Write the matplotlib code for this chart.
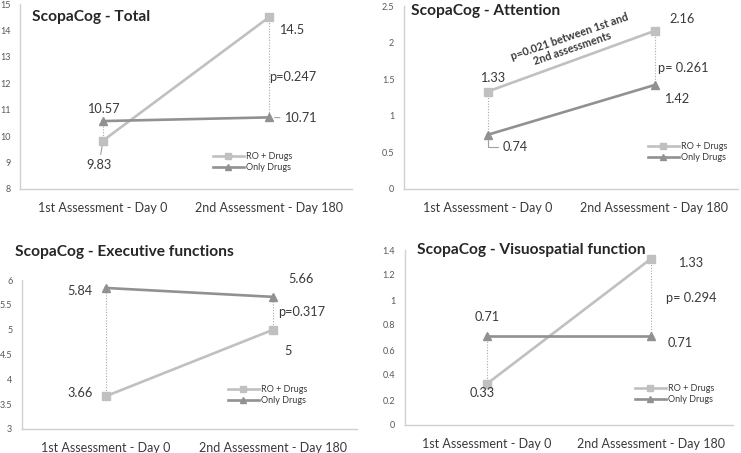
import matplotlib
matplotlib.use("Agg")
import matplotlib.pyplot as plt
from matplotlib.ticker import FormatStrFormatter

plt.rcParams['font.family'] = ['Lato', 'DejaVu Sans']

### Data
categories = ['1st Assessment - Day 0', '2nd Assessment - Day 180']
series_names = ['RO + Drugs', 'Only Drugs']

total_ro = [9.83, 14.5]
total_only = [10.57, 10.71]
total_p = 'p=0.247'

attention_ro = [1.33, 2.16]
attention_only = [0.74, 1.42]
attention_p = 'p= 0.261'
attention_note = 'p=0.021 between 1st and\n2nd assessments'

executive_ro = [3.66, 5]
executive_only = [5.84, 5.66]
executive_p = 'p=0.317'

visuo_ro = [0.33, 1.33]
visuo_only = [0.71, 0.71]
visuo_p = 'p= 0.294'

### Styles
W, H = 741, 453
c_ro = '#c0c0c0'
c_only = '#919191'
c_text = '#3a3a3a'
c_tick = '#595959'
c_spine = '#d0d0d0'
val_size = 9.2
title_size = 11.2

fig = plt.figure(figsize=(W / 100, H / 100), dpi=100)


def px_rect(left, right, top, bottom):
    # pixel box -> figure fraction rect
    return [left / W, 1 - bottom / H, (right - left) / W, (bottom - top) / H]


def px2pt(v):
    return v * 0.72


def panel(rect, ro, only, ylim, ystep):
    ax = fig.add_axes(rect)
    x = [0, 1]
    # dotted connectors between the two series
    for i in x:
        ax.plot([i, i], [ro[i], only[i]], ls=(0, (1, 1.5)), color='#a8a8a8',
                lw=0.8, zorder=1)
    ax.plot(x, ro, color=c_ro, lw=1.9, marker='s', ms=6, label=series_names[0],
            zorder=3)
    ax.plot(x, only, color=c_only, lw=1.9, marker='^', ms=6,
            label=series_names[1], zorder=3)
    ax.set_xlim(-0.5, 1.5)
    ax.set_ylim(*ylim)
    n = int(round((ylim[1] - ylim[0]) / ystep))
    ax.set_yticks([ylim[0] + k * ystep for k in range(n + 1)])
    ax.yaxis.set_major_formatter(FormatStrFormatter('%g'))
    ax.set_xticks(x)
    ax.set_xticklabels(categories, fontsize=9, color=c_text)
    ax.tick_params(axis='y', length=0, pad=7, labelsize=6.5, labelcolor=c_tick)
    ax.tick_params(axis='x', length=0, pad=9)
    for s in ['top', 'right']:
        ax.spines[s].set_visible(False)
    for s in ['left', 'bottom']:
        ax.spines[s].set_color(c_spine)
        ax.spines[s].set_linewidth(1)
    return ax


def label(ax, xv, yv, text, dx, dy, ha='left', leader=None):
    kw = {}
    if leader is not None:
        kw['arrowprops'] = dict(arrowstyle='-', color='#a0a0a0', lw=0.8,
                                shrinkA=1, shrinkB=4, connectionstyle=leader)
    ax.annotate(text, (xv, yv), xytext=(px2pt(dx), px2pt(dy)),
                textcoords='offset points', ha=ha, va='center',
                fontsize=val_size, color=c_text, **kw)


def legend(ax, left, top):
    ax.legend(loc='upper left', bbox_to_anchor=(left / W, 1 - top / H),
              bbox_transform=fig.transFigure, frameon=False, fontsize=6.5,
              handlelength=3.4, handletextpad=0.3, labelspacing=0.25,
              borderpad=0, borderaxespad=0, markerscale=0.75,
              labelcolor=c_text)


def ptext(ax, yv, text, dx):
    ax.annotate(text, (1, yv), xytext=(px2pt(dx), 0),
                textcoords='offset points', ha='left', va='center',
                fontsize=val_size, color=c_text)


def title(x, y, text):
    fig.text(x / W, 1 - y / H, text, fontsize=title_size,
             fontweight='bold', color='#262626', va='center')


### ScopaCog - Total
ax1 = panel(px_rect(20, 352, 4, 189), total_ro, total_only, (8, 15), 1)
label(ax1, 1, total_ro[1], '14.5', 10, -13)
label(ax1, 0, total_ro[0], '9.83', -4, -24, 'center', leader='arc3')
label(ax1, 0, total_only[0], '10.57', 0, 12, 'center')
label(ax1, 1, total_only[1], '10.71', 15, -1, leader='arc3')
ptext(ax1, 12.25, total_p, 0)
title(32, 17, 'ScopaCog - Total')
legend(ax1, 213, 152)

### ScopaCog - Attention
ax2 = panel(px_rect(404, 738, 6, 189), attention_ro, attention_only,
            (0, 2.5), 0.5)
label(ax2, 0, attention_ro[0], '1.33', 5, 14, 'center')
label(ax2, 1, attention_ro[1], '2.16', 15, 12)
label(ax2, 0, attention_only[0], '0.74', 15, -12,
      leader='angle,angleA=0,angleB=90,rad=0')
label(ax2, 1, attention_only[1], '1.42', 10, -14)
ptext(ax2, 1.65, attention_p, 3)
ax2.text(0.5, 2.0, attention_note, rotation=19, ha='center', va='center',
         fontsize=7.8, fontweight='bold', color=c_text, linespacing=1.05,
         rotation_mode='anchor')
title(411, 11, 'ScopaCog - Attention')
legend(ax2, 648, 142)

### ScopaCog - Executive functions
ax3 = panel(px_rect(22, 357, 280, 429), executive_ro, executive_only,
            (3, 6), 0.5)
label(ax3, 0, executive_only[0], '5.84', -13, -3, 'right')
label(ax3, 1, executive_only[1], '5.66', 15, 18)
label(ax3, 0, executive_ro[0], '3.66', -13, 3, 'right')
label(ax3, 1, executive_ro[1], '5', 11, -21)
ptext(ax3, 5.36, executive_p, 5)
title(15, 252, 'ScopaCog - Executive functions')
legend(ax3, 228, 385)

### ScopaCog - Visuospatial function
ax4 = panel(px_rect(405, 733, 250, 425), visuo_ro, visuo_only, (0, 1.4), 0.2)
label(ax4, 0, visuo_only[0], '0.71', 0, 19, 'center')
label(ax4, 1, visuo_only[1], '0.71', 17, -7)
label(ax4, 0, visuo_ro[0], '0.33', -5, -9, 'center')
label(ax4, 1, visuo_ro[1], '1.33', 27, -4)
ptext(ax4, 1.02, visuo_p, 15)
title(417, 250, 'ScopaCog - Visuospatial function')
legend(ax4, 635, 384)

fig.savefig('out.png', dpi=100)
